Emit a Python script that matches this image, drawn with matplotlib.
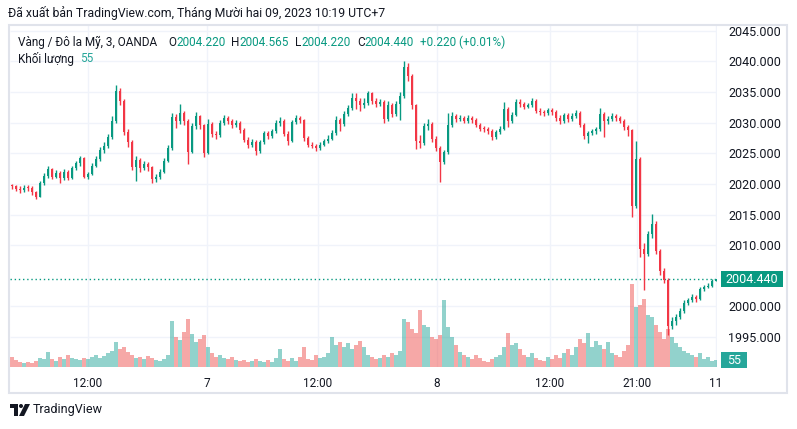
import numpy as np
import matplotlib.pyplot as plt
from matplotlib.patches import Rectangle, Polygon, Circle
from matplotlib.transforms import IdentityTransform

plt.rcParams['font.family'] = ['Roboto', 'DejaVu Sans']

# XAUUSD 3m, OANDA (resampled candles), Dec 6 - Dec 11 2023
first_open = 2019.8
closes = [2019.6, 2019.2, 2019.0, 2019.4, 2019.3, 2018.6, 2017.9, 2020.2, 2021.3, 2022.4,
          2021.2, 2021.8, 2020.9, 2021.9, 2021.0, 2022.6, 2023.4, 2024.2, 2021.2, 2021.6,
          2023.0, 2024.1, 2025.5, 2026.2, 2027.6, 2030.3, 2035.2, 2033.6, 2028.5, 2026.8,
          2022.8, 2023.9, 2022.6, 2023.2, 2022.7, 2020.8, 2021.1, 2022.0, 2023.8, 2025.8,
          2030.9, 2030.2, 2031.6, 2030.3, 2025.2, 2029.4, 2031.0, 2029.6, 2025.0, 2029.8,
          2028.2, 2027.9, 2030.0, 2030.8, 2030.2, 2029.6, 2030.0, 2028.8, 2027.2, 2026.4,
          2026.9, 2025.4, 2026.8, 2028.3, 2027.8, 2028.6, 2029.9, 2030.3, 2028.2, 2027.0,
          2030.1, 2030.8, 2030.4, 2027.5, 2026.4, 2026.2, 2025.9, 2026.4, 2027.0, 2027.4,
          2028.3, 2030.4, 2029.8, 2031.4, 2032.3, 2034.0, 2033.5, 2032.8, 2033.2, 2034.8,
          2033.6, 2033.1, 2033.4, 2030.6, 2032.9, 2031.4, 2033.0, 2034.4, 2039.0, 2037.6,
          2032.8, 2027.0, 2026.6, 2029.4, 2029.8, 2027.4, 2025.9, 2023.6, 2025.2, 2029.6,
          2031.0, 2030.6, 2030.7, 2030.3, 2030.8, 2030.4, 2029.6, 2029.0, 2028.9, 2028.6,
          2027.6, 2028.4, 2029.0, 2032.2, 2030.2, 2031.2, 2033.4, 2033.0, 2032.6, 2032.8,
          2033.6, 2031.9, 2031.7, 2031.5, 2032.0, 2031.7, 2030.8, 2030.2, 2031.2, 2030.6,
          2031.0, 2031.6, 2029.6, 2027.8, 2028.3, 2028.6, 2028.9, 2031.4, 2030.2, 2030.6,
          2031.1, 2030.8, 2030.3, 2029.2, 2028.8, 2016.4, 2024.0, 2009.4, 2008.6, 2011.8,
          2013.5, 2009.0, 2005.8, 2004.4, 1996.8, 1997.6, 1998.3, 1999.2, 2000.6, 2001.0,
          2001.6, 2001.2, 2002.8, 2003.1, 2003.4, 2004.1, 2004.44]
highs = [2020.0, 2019.9, 2019.6, 2019.8, 2019.9, 2019.6, 2018.9, 2020.5, 2021.8, 2022.9,
         2022.6, 2022.3, 2022.1, 2022.4, 2022.2, 2023.0, 2023.8, 2024.6, 2024.4, 2022.0,
         2023.4, 2024.6, 2026.0, 2026.8, 2028.2, 2031.0, 2036.2, 2035.6, 2033.9, 2029.0,
         2027.2, 2024.5, 2024.2, 2023.7, 2023.6, 2023.0, 2021.6, 2022.5, 2024.2, 2026.4,
         2031.6, 2031.4, 2033.0, 2031.9, 2030.6, 2029.9, 2031.7, 2031.3, 2029.8, 2030.6,
         2030.1, 2028.7, 2030.5, 2031.3, 2031.1, 2030.6, 2030.5, 2030.2, 2029.1, 2027.6,
         2027.4, 2027.1, 2027.2, 2028.7, 2028.6, 2029.0, 2030.4, 2030.9, 2030.6, 2028.6,
         2030.5, 2031.2, 2031.0, 2030.6, 2027.8, 2026.8, 2026.5, 2026.8, 2027.4, 2027.9,
         2028.8, 2031.0, 2030.8, 2031.9, 2032.8, 2034.9, 2034.9, 2034.0, 2034.0, 2035.2,
         2035.0, 2034.0, 2033.9, 2033.7, 2033.5, 2033.2, 2033.6, 2035.0, 2040.0, 2039.8,
         2037.9, 2033.1, 2027.9, 2030.0, 2030.6, 2030.1, 2027.8, 2026.2, 2025.6, 2031.6,
         2031.8, 2031.4, 2031.2, 2031.0, 2031.3, 2031.1, 2030.7, 2029.9, 2029.4, 2029.2,
         2028.9, 2028.8, 2029.5, 2033.4, 2032.5, 2031.7, 2033.8, 2033.8, 2033.3, 2033.2,
         2034.0, 2033.8, 2032.3, 2032.1, 2032.4, 2032.3, 2032.0, 2031.2, 2031.6, 2031.5,
         2031.5, 2032.0, 2031.9, 2029.9, 2028.7, 2029.0, 2029.3, 2032.4, 2031.7, 2031.1,
         2031.5, 2031.4, 2031.1, 2030.6, 2029.6, 2029.0, 2027.0, 2024.4, 2010.4, 2012.3,
         2015.1, 2013.9, 2009.4, 2006.3, 2004.7, 1998.3, 1998.8, 1999.8, 2001.0, 2001.4,
         2002.0, 2001.9, 2003.2, 2003.5, 2003.8, 2004.5, 2004.565]
lows = [2019.1, 2018.8, 2018.5, 2018.7, 2018.9, 2018.2, 2017.6, 2017.8, 2019.9, 2021.0,
        2020.8, 2020.9, 2020.1, 2020.6, 2020.7, 2020.8, 2022.3, 2023.0, 2020.9, 2020.8,
        2021.4, 2022.8, 2023.8, 2025.0, 2025.9, 2027.3, 2030.0, 2032.8, 2027.9, 2026.0,
        2022.3, 2020.4, 2022.0, 2022.2, 2022.1, 2020.2, 2020.3, 2020.8, 2021.7, 2023.5,
        2025.5, 2029.1, 2029.8, 2029.6, 2023.3, 2025.0, 2029.0, 2029.0, 2024.4, 2024.8,
        2027.6, 2027.3, 2027.6, 2029.6, 2029.7, 2029.1, 2029.3, 2028.3, 2026.8, 2025.9,
        2026.0, 2024.7, 2025.1, 2026.5, 2027.3, 2027.5, 2028.3, 2029.5, 2027.8, 2026.3,
        2026.8, 2029.8, 2029.9, 2027.0, 2026.0, 2025.8, 2025.4, 2025.6, 2026.1, 2026.7,
        2027.1, 2028.0, 2028.6, 2029.5, 2031.0, 2032.0, 2032.2, 2031.9, 2032.3, 2032.9,
        2033.0, 2032.6, 2032.7, 2029.9, 2030.3, 2030.9, 2031.1, 2030.4, 2034.0, 2036.8,
        2032.2, 2025.7, 2025.8, 2026.3, 2028.8, 2026.9, 2025.4, 2020.3, 2023.2, 2024.9,
        2029.2, 2030.1, 2030.2, 2029.9, 2030.0, 2030.0, 2029.2, 2028.6, 2028.5, 2028.2,
        2027.1, 2027.3, 2028.1, 2028.8, 2029.3, 2029.9, 2031.0, 2032.5, 2032.2, 2032.3,
        2032.5, 2031.5, 2031.2, 2031.0, 2031.2, 2031.3, 2030.3, 2029.8, 2029.9, 2030.1,
        2030.2, 2030.7, 2029.2, 2027.3, 2026.7, 2027.9, 2028.2, 2028.6, 2027.6, 2029.8,
        2030.2, 2030.3, 2029.9, 2028.8, 2027.8, 2014.6, 2016.0, 2008.0, 2002.7, 2008.2,
        2011.2, 2008.5, 2005.2, 2003.8, 1995.4, 1996.3, 1997.0, 1997.9, 1999.0, 2000.2,
        2000.7, 2000.8, 2001.0, 2002.6, 2003.0, 2003.2, 2004.22]
volumes = [80, 56, 40, 32, 40, 32, 48, 72, 64, 120, 64, 48, 80, 64, 96, 72, 64, 56,
           72, 64, 80, 96, 72, 88, 112, 128, 200, 144, 160, 120,
           96, 72, 80, 64, 88, 72, 56, 48, 64, 96,
           368, 240, 216, 280, 384, 264, 200, 224, 256,
           160, 112, 80, 96, 72, 64, 80, 56, 48,
           56, 40, 48, 64, 48, 40, 56, 40, 72, 144, 64, 48, 72, 48, 80, 160, 64, 56, 96, 72, 80, 112, 240,
           176, 200, 160, 192, 144, 176, 208, 160, 96, 80, 64, 72, 96, 80, 112, 96, 128,
           384, 360, 304, 272, 456, 336, 320, 240, 224, 256,
           536, 320, 240, 176, 120, 96, 80, 64, 96, 72,
           48, 40, 64, 80, 96, 160, 272, 176, 192, 144, 96, 80, 112, 72, 56, 48, 80, 64, 96, 72,
           112, 144, 96, 160, 224, 192, 272, 160, 208, 176,
           144, 200, 112, 96, 80, 128, 176,
           664, 480, 496, 544, 416, 400, 336, 280, 224, 304, 240, 192, 160, 128, 112, 96, 80, 112, 64, 80, 48, 55]

time_labels = ['12:00', '7', '12:00', '8', '12:00', '21:00', '11']
time_bars = [18.9, 48.75, 76.4, 106.25, 134.5, 156.2, 176]
price_ticks = [1995, 2000, 2010, 2015, 2020, 2025, 2030, 2035, 2040, 2045]

last_open, last_high, last_low, last_close = 2004.220, 2004.565, 2004.220, 2004.440
last_change, last_pct = 0.220, 0.01
last_volume = 55

UP, DOWN = '#089981', '#f23645'
VUP, VDOWN = '#26a69a', '#ef5350'
TXT = '#131722'
GRID = '#f0f3fa'

W, H = 797, 429
fig = plt.figure(figsize=(W / 100, H / 100), dpi=100)
fig.patch.set_facecolor('white')
rect = [10 / W, 1 - 367 / H, 707 / W, 342 / H]
ax = fig.add_axes(rect)
vax = ax.twinx()
ax.set_zorder(vax.get_zorder() + 1)
ax.patch.set_visible(False)

closes = np.array(closes)
opens = np.concatenate([[first_open], closes[:-1]])
highs = np.array(highs)
lows = np.array(lows)
idx = np.arange(len(closes))
up = closes >= opens
colors = np.where(up, UP, DOWN)

ax.set_xlim(-0.5, 176.25)
ax.set_ylim(1990.13, 2045.92)

# grid (kept in the volume axes so it sits under the bars)
vax.hlines(price_ticks, -0.5, 176.25, colors=GRID, lw=1, transform=ax.transData, zorder=0)
for t in time_bars:
    vax.axvline(t, color=GRID, lw=1, zorder=0)

# volume pane
vax.bar(idx, volumes, width=0.85, color=np.where(up, VUP, VDOWN), alpha=0.5,
        linewidth=0, zorder=1)
vax.set_ylim(0, 2736)
vax.set_yticks([])
for s in vax.spines.values():
    s.set_visible(False)

# candles
ax.vlines(idx, lows, highs, colors=colors, lw=1.0, zorder=2)
body_lo = np.minimum(opens, closes)
body_h = np.maximum(np.abs(closes - opens), 0.15)
ax.bar(idx, body_h, bottom=body_lo, width=0.72, color=colors, linewidth=0, zorder=3)

ax.axhline(last_close, color=UP, lw=1, ls=(0, (1, 2)), zorder=1)

ax.yaxis.tick_right()
ax.set_yticks(price_ticks)
ax.set_yticklabels(['%.3f' % p for p in price_ticks])
ax.set_xticks(time_bars)
ax.set_xticklabels(time_labels)
ax.tick_params(axis='y', length=0, pad=8, labelsize=9, colors=TXT)
ax.tick_params(axis='x', length=0, pad=7, labelsize=8.5, colors=TXT)
for s in ax.spines.values():
    s.set_visible(False)

# last price / last volume tags
ident = IdentityTransform()
yp = ax.transData.transform((0, last_close))[1]
fig.add_artist(Rectangle((721, yp - 8), 62, 16, transform=ident, fc=UP, ec='none'))
fig.text(752 / W, yp / H, '%.3f' % last_close, color='white', fontsize=9,
         ha='center', va='center')
yv = vax.transData.transform((0, last_volume))[1]
fig.add_artist(Rectangle((721, yv - 8), 26, 16, transform=ident, fc=VUP, ec='none'))
fig.text(734 / W, yv / H, str(last_volume), color='white', fontsize=9,
         ha='center', va='center')

# frame
fig.add_artist(Rectangle((9, H - 393), 778, 368, transform=ident, fill=False,
                         ec='#e0e3eb', lw=1.5))

renderer = fig.canvas.get_renderer()


def text_row(x, y, pieces, size):
    for s, c, gap in pieces:
        t = fig.text(x / W, 1 - y / H, s, color=c, fontsize=size, ha='left', va='center')
        x += t.get_window_extent(renderer=renderer).width + gap


text_row(8, 13, [('Đã xuất bản TradingView.com, Tháng Mười hai 09, 2023 10:19 UTC+7', TXT, 0)], 8.8)
text_row(18, 42, [('Vàng / Đô la Mỹ, 3, OANDA', TXT, 11),
                  ('O', TXT, 0), ('%.3f' % last_open, UP, 6),
                  ('H', TXT, 0), ('%.3f' % last_high, UP, 6),
                  ('L', TXT, 0), ('%.3f' % last_low, UP, 6),
                  ('C', TXT, 0), ('%.3f' % last_close, UP, 6),
                  ('+%.3f (+%.2f%%)' % (last_change, last_pct), UP, 0)], 8.5)
text_row(18, 59, [('Khối lượng', TXT, 6), (str(last_volume), VUP, 0)], 8.5)

# footer logo
fig.add_artist(Polygon([(10, H - 404), (18, H - 404), (18, H - 416), (14, H - 416),
                        (14, H - 408), (10, H - 408)], transform=ident, fc=TXT, ec='none'))
fig.add_artist(Circle((21, H - 406), 2, transform=ident, fc=TXT, ec='none'))
fig.add_artist(Polygon([(25, H - 404), (30, H - 404), (24, H - 416), (19, H - 416)],
                       transform=ident, fc=TXT, ec='none'))
fig.text(33 / W, 1 - 410 / H, 'TradingView', color=TXT, fontsize=9, ha='left', va='center')

fig.savefig('out.png', dpi=100)
